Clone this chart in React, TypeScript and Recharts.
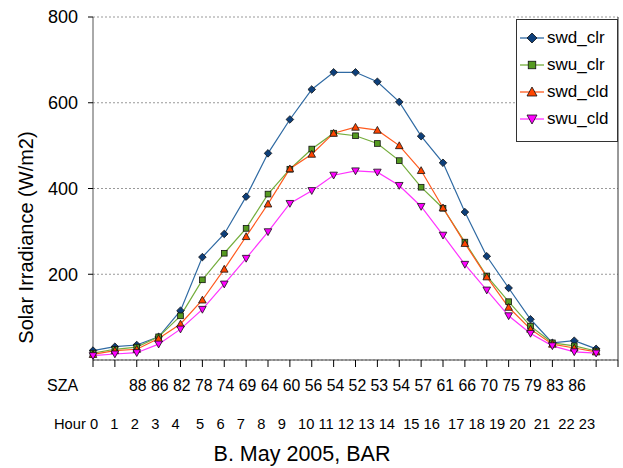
import React from 'react';
import { LineChart, Line, XAxis, YAxis, CartesianGrid, ReferenceLine, Legend } from 'recharts';

const HOURS = [0, 1, 2, 3, 4, 5, 6, 7, 8, 9, 10, 11, 12, 13, 14, 15, 16, 17, 18, 19, 20, 21, 22, 23];
const SWD_CLR = [22, 31, 35, 54, 115, 240, 294, 381, 482, 561, 631, 671, 671, 649, 602, 522, 460, 345, 242, 168, 95, 40, 45, 26];
const SWU_CLR = [16, 25, 30, 54, 103, 187, 249, 307, 387, 445, 492, 529, 523, 505, 465, 403, 354, 275, 196, 136, 79, 40, 33, 21];
const SWD_CLD = [13, 22, 25, 50, 84, 140, 212, 288, 364, 446, 480, 529, 543, 536, 500, 442, 355, 272, 194, 123, 72, 37, 28, 19];
const SWU_CLD = [10, 14, 17, 37, 72, 118, 177, 237, 299, 365, 395, 431, 441, 438, 407, 358, 291, 223, 163, 103, 62, 33, 19, 16];

const SZA_LABELS = ['88', '86', '82', '78', '74', '69', '64', '60', '56', '54', '52', '53', '54', '57', '61', '66', '70', '75', '79', '83', '86'];
// hour row was typed with uneven spacing in the original
const HOUR_ROW = 'Hour 0   1   2   3   4    5   6   7   8   9   10 11 12 13 14  15 16  17 18 19 20  21  22 23';
const X_TICKS = [0, 1, 2, 3, 4, 5, 6, 7, 8, 9, 10, 11, 12, 13, 14, 15, 16, 17, 18, 19, 20, 21, 22, 23, 24];
const Y_TICKS = [200, 400, 600, 800];

const SERIES = [
  { key: 'swd_clr', values: SWD_CLR, line: '#2f6aa3', fill: '#0d3f7a', shape: 'diamond' },
  { key: 'swu_clr', values: SWU_CLR, line: '#74ad3c', fill: '#559a20', shape: 'square' },
  { key: 'swd_cld', values: SWD_CLD, line: '#ff5a1e', fill: '#ff4500', shape: 'up' },
  { key: 'swu_cld', values: SWU_CLD, line: '#ff33ff', fill: '#ff00ff', shape: 'down' },
];

const data = HOURS.map((h, i) => {
  const row: Record<string, number> = { hour: h };
  SERIES.forEach((s) => (row[s.key] = s.values[i]));
  return row;
});

const SANS = '"Liberation Sans", Arial, sans-serif';
const NARROW = '"Liberation Sans Narrow", "Arial Narrow", "Liberation Sans", sans-serif';

function Marker({ shape, cx, cy, fill, s }: { shape: string; cx: number; cy: number; fill: string; s: number }) {
  const stroke = '#111';
  const sw = 0.8;
  if (shape === 'diamond')
    return <polygon points={`${cx},${cy - s} ${cx + s},${cy} ${cx},${cy + s} ${cx - s},${cy}`} fill={fill} stroke={stroke} strokeWidth={sw} />;
  if (shape === 'square')
    return <rect x={cx - s * 0.75} y={cy - s * 0.75} width={s * 1.5} height={s * 1.5} fill={fill} stroke={stroke} strokeWidth={sw} />;
  if (shape === 'up')
    return <polygon points={`${cx},${cy - s} ${cx + s},${cy + s * 0.8} ${cx - s},${cy + s * 0.8}`} fill={fill} stroke={stroke} strokeWidth={sw} />;
  return <polygon points={`${cx},${cy + s} ${cx + s},${cy - s * 0.8} ${cx - s},${cy - s * 0.8}`} fill={fill} stroke={stroke} strokeWidth={sw} />;
}

const LegendBox = () => (
  <div
    style={{
      width: 100,
      height: 117,
      border: '1px solid #333',
      background: '#fff',
      boxSizing: 'content-box',
      paddingTop: 4,
    }}
  >
    {SERIES.map((s) => (
      <div key={s.key} style={{ display: 'flex', alignItems: 'center', height: 27 }}>
        <svg width={28} height={20} style={{ marginLeft: 2 }}>
          <line x1={1} y1={10} x2={25} y2={10} stroke={s.line} strokeWidth={1.3} />
          <Marker shape={s.shape} cx={13} cy={10} fill={s.fill} s={5} />
        </svg>
        <span style={{ fontFamily: SANS, fontSize: 17, color: '#000', marginLeft: 0 }}>{s.key}</span>
      </div>
    ))}
  </div>
);

export default function App() {
  return (
    <div style={{ position: 'absolute', left: 0, top: 0, width: 623, height: 468, background: '#fff' }}>
      <LineChart width={623} height={468} data={data} margin={{ top: 17, right: 5, bottom: 78, left: 0 }}>
        <CartesianGrid vertical={false} stroke="#999" strokeDasharray="2 2" />
        <XAxis
          dataKey="hour"
          type="number"
          domain={[0, 24]}
          ticks={X_TICKS}
          interval={0}
          height={30}
          tickSize={7}
          tickFormatter={() => ''}
          stroke="#444"
          tickLine={{ stroke: '#000' }}
        />
        <YAxis
          domain={[0, 800]}
          ticks={Y_TICKS}
          width={93}
          tickSize={5}
          tickMargin={10}
          stroke="#555"
          tickLine={{ stroke: '#000' }}
          tick={{ fontFamily: NARROW, fontSize: 18, fill: '#000' }}
        />
        <ReferenceLine x={24} stroke="#333" strokeWidth={1} />
        {SERIES.map((s) => (
          <Line
            key={s.key}
            dataKey={s.key}
            stroke={s.line}
            strokeWidth={1.2}
            isAnimationActive={false}
            dot={(p: any) => <Marker key={`${s.key}-${p.index}`} shape={s.shape} cx={p.cx} cy={p.cy} fill={s.fill} s={3.8} />}
          />
        ))}
        <Legend
          layout="horizontal"
          verticalAlign="middle"
          align="center"
          content={() => <LegendBox />}
          wrapperStyle={{ position: 'absolute', left: 516, top: 19, width: 102, height: 122 }}
        />
      </LineChart>
      <svg width={623} height={468} style={{ position: 'absolute', left: 0, top: 0, pointerEvents: 'none' }}>
        <text transform="translate(33, 237.5) rotate(-90)" textAnchor="middle" fontFamily={SANS} fontSize={20} fill="#000">
          Solar Irradiance (W/m2)
        </text>
        <text x={47} y={391} fontFamily={SANS} fontSize={16} fill="#000">SZA</text>
        <text x={129} y={391} fontFamily={SANS} fontSize={15.8} fill="#000" style={{ whiteSpace: 'pre' }}>
          {SZA_LABELS.join(' ')}
        </text>
        <text x={54} y={429} fontFamily={SANS} fontSize={14.7} fill="#000" style={{ whiteSpace: 'pre' }}>
          {HOUR_ROW}
        </text>
        <text x={302} y={461} textAnchor="middle" fontFamily={SANS} fontSize={21.5} fill="#000">
          B. May 2005, BAR
        </text>
      </svg>
    </div>
  );
}
